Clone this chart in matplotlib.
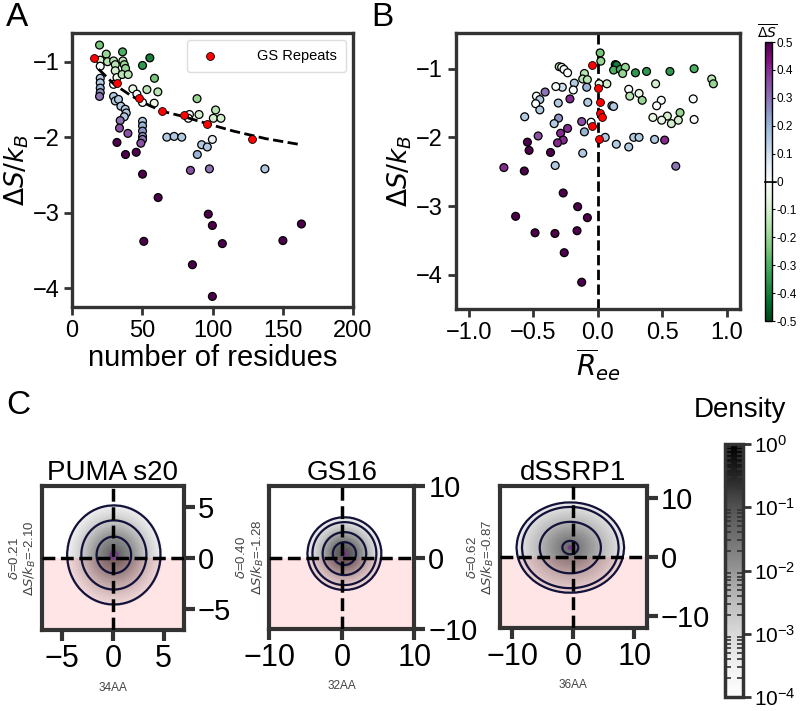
import numpy as np
import matplotlib
matplotlib.use("Agg")
import matplotlib.pyplot as plt
from matplotlib.colors import ListedColormap, Normalize, LogNorm
from matplotlib.cm import ScalarMappable

plt.rcParams['font.family'] = ['Liberation Sans', 'DejaVu Sans']

# ---------------- data: panel A ----------------
A_n = [19.6, 20.1, 24.4, 20.1, 25.3, 29.6, 30.8, 36.0, 36.2, 37.2, 38.1, 30.8, 32.0, 29.6,
       35.7, 40.0, 50.2, 55.4, 58.7, 53.3, 61.1, 43.3, 46.2, 50.2, 58.5, 20.1, 20.1, 20.1,
       20.1, 19.6, 29.6, 30.8, 33.1, 34.8, 37.9, 38.6, 37.2, 34.3, 33.8, 39.8, 32.0, 38.1,
       45.7, 50.2, 50.2, 50.2, 50.2, 50.2, 49.0, 50.2, 51.1, 61.3, 67.5, 72.7, 78.1, 84.3,
       89.2, 92.3, 96.3, 97.8, 99.9, 89.0, 90.4, 102.2, 100.6, 106.0, 83.6, 82.8, 97.0,
       99.9, 107.0, 85.7, 99.9, 150.1, 163.3, 137.3]
A_ds = [-0.78, -0.98, -0.90, -1.06, -1.00, -0.99, -1.04, -0.87, -0.99, -1.04, -1.09, -1.12,
        -1.21, -1.30, -1.17, -1.17, -1.05, -0.95, -1.22, -1.37, -1.40, -1.36, -1.43, -1.54,
        -1.55, -1.22, -1.28, -1.35, -1.41, -1.46, -1.46, -1.52, -1.50, -1.59, -1.63, -1.68,
        -1.73, -1.78, -1.88, -1.95, -2.07, -2.23, -2.20, -1.79, -1.85, -1.92, -1.99, -2.03,
        -2.08, -2.49, -3.38, -2.80, -2.00, -1.99, -2.00, -2.44, -2.23, -2.10, -2.13, -2.42,
        -2.03, -1.49, -1.70, -1.64, -1.75, -1.75, -1.70, -1.75, -3.02, -3.17, -3.41, -3.69,
        -4.11, -3.37, -3.15, -2.42]
A_c = [-0.25, -0.10, -0.20, 0.00, -0.15, -0.15, -0.15, -0.30, -0.15, -0.20, -0.20, -0.10,
       -0.05, 0.00, -0.15, -0.15, -0.35, -0.40, -0.25, -0.15, -0.15, -0.05, 0.00, 0.00,
       -0.05, 0.15, 0.15, 0.20, 0.25, 0.30, 0.15, 0.15, 0.15, 0.15, 0.15, 0.15, 0.15, 0.30,
       0.35, 0.35, 0.50, 0.50, 0.50, 0.15, 0.20, 0.25, 0.25, 0.30, 0.35, 0.50, 0.50, 0.50,
       0.15, 0.15, 0.15, 0.35, 0.20, 0.15, 0.15, 0.30, 0.05, -0.20, -0.10, -0.15, -0.10,
       -0.10, 0.00, 0.00, 0.50, 0.50, 0.50, 0.50, 0.50, 0.50, 0.50, 0.15]

GS_n = [16, 32, 48, 64, 80, 96, 128]
GS_ds = [-0.95, -1.28, -1.48, -1.65, -1.71, -1.83, -2.03]
GS_ree = [-0.047, 0.005, 0.018, 0.018, 0.031, -0.047, 0.010]

fit_n = [19, 30, 42, 55, 65, 80, 96, 115, 138, 163]
fit_ds = [-1.10, -1.30, -1.45, -1.58, -1.66, -1.73, -1.82, -1.92, -2.02, -2.10]

# ---------------- data: panel B ----------------
B_ree = [0.018, 0.023, 0.135, 0.145, 0.122, 0.174, 0.213, 0.192, 0.291, 0.377, 0.558, 0.745,
         0.881, 0.894, 0.447, 0.239, 0.247, 0.319, 0.343, 0.491, 0.455, 0.738, 0.636, 0.538,
         0.426, 0.494, 0.569, 0.623, 0.745, 0.070, 0.010, 0.109, 0.122, 0.057, 0.143, 0.239,
         0.278, 0.319, 0.439, 0.517, 0.603, -0.299, -0.280, -0.262, -0.234, -0.104, -0.117,
         -0.081, -0.086, -0.182, -0.275, -0.325, -0.190, -0.475, -0.449, -0.481, -0.449,
         -0.408, -0.566, -0.306, -0.216, -0.078, -0.304, -0.338, -0.125, -0.052, -0.104,
         -0.234, -0.288, -0.268, -0.312, -0.462, -0.545, -0.532, -0.366, -0.117, -0.330,
         -0.569, -0.727, -0.268, -0.156, -0.081, -0.636, -0.486, -0.332, -0.161, -0.260, -0.125]
B_ds = [-0.77, -0.89, -0.94, -0.95, -1.02, -1.01, -0.98, -1.07, -1.06, -1.04, -1.04, -1.00,
        -1.15, -1.22, -1.22, -1.30, -1.40, -1.36, -1.46, -1.46, -1.54, -1.44, -1.64, -1.69,
        -1.71, -1.75, -1.80, -1.75, -1.74, -1.22, -1.22, -1.54, -1.55, -2.00, -2.10, -2.14,
        -2.00, -2.00, -2.03, -2.04, -2.42, -0.97, -0.98, -1.01, -1.06, -1.07, -1.15, -1.16,
        -1.27, -1.21, -1.27, -1.26, -1.31, -1.40, -1.45, -1.51, -1.60, -1.34, -1.70, -1.50,
        -1.44, -1.49, -1.72, -1.80, -1.77, -1.78, -1.92, -1.87, -1.94, -2.04, -2.08, -1.98,
        -2.07, -2.19, -2.22, -2.23, -2.41, -2.49, -2.44, -2.81, -3.01, -3.17, -3.15, -3.39,
        -3.40, -3.36, -3.68, -4.11]
B_c = [-0.25, -0.20, -0.45, -0.40, -0.30, -0.30, -0.20, -0.20, -0.35, -0.35, -0.35, -0.30,
       -0.15, -0.20, -0.10, 0.00, -0.15, -0.05, -0.20, 0.00, 0.00, 0.00, -0.20, -0.10,
       -0.05, -0.05, -0.10, -0.10, 0.00, -0.10, -0.05, 0.15, 0.15, 0.15, 0.15, 0.15, 0.15,
       0.15, 0.15, 0.40, 0.30, -0.15, 0.00, 0.00, 0.00, -0.15, -0.15, -0.15, 0.20, 0.15,
       0.10, 0.00, 0.00, 0.00, 0.15, 0.00, 0.15, 0.30, 0.15, 0.15, 0.40, 0.15, 0.25, 0.15,
       0.35, 0.00, 0.20, 0.40, 0.40, 0.40, 0.40, 0.35, 0.50, 0.50, 0.50, 0.15, 0.15, 0.50,
       0.40, 0.50, 0.50, 0.50, 0.50, 0.50, 0.50, 0.50, 0.50, 0.50]

cb_ticks = [-0.5, -0.4, -0.3, -0.2, -0.1, 0.0, 0.1, 0.2, 0.3, 0.4, 0.5]
cb_labels = ['-0.5', '-0.4', '-0.3', '-0.2', '-0.1', '0', '0.1', '0.2', '0.3', '0.4', '0.5']

C_names = ['PUMA s20', 'GS16', 'dSSRP1']
C_delta = ['0.21', '0.40', '0.62']
C_dS = ['-2.10', '-1.28', '-0.87']
C_len = ['34AA', '32AA', '36AA']
C_lim = [7, 10, 12]
C_ticks = [[-5, 0, 5], [-10, 0, 10], [-10, 0, 10]]
C_cx = [0.1, 0.35, -0.5]
C_cy = [0.3, 0.55, 1.6]
C_aspect = [1.05, 1.0, 0.87]
C_radii = [[0, 0.35, 1.7, 3.2, 4.6, 5.0],
           [0, 0.35, 1.6, 3.0, 4.4, 5.1, 5.5],
           [0, 0.25, 1.3, 5.0, 7.9, 8.8, 9.3]]
C_logd = [[-1.2, -1.3, -1.9, -2.7, -3.5, -4.5],
          [-0.9, -1.0, -1.5, -2.3, -3.1, -3.5, -4.5],
          [-1.3, -1.35, -1.6, -2.4, -3.1, -3.5, -4.5]]

# ---------------- style ----------------
SPINE = '#333333'
greens = plt.get_cmap('Greens_r')(np.linspace(0, 1, 128))
bupu = plt.get_cmap('BuPu')(np.linspace(0, 1, 128))
cmap = ListedColormap(np.vstack([greens, bupu]))


def style(ax, lw=2.4):
    for s in ax.spines.values():
        s.set_linewidth(lw)
        s.set_color(SPINE)


fig = plt.figure(figsize=(8, 7.11), dpi=100)

# ---------------- Panel A ----------------
axA = fig.add_axes([0.09, 0.5682, 0.35125, 0.3854])
sc = axA.scatter(A_n, A_ds, c=A_c, cmap=cmap, vmin=-0.5, vmax=0.5, s=32,
                 edgecolors='k', linewidths=0.9, zorder=3)
axA.plot(fit_n, fit_ds, color='k', ls='--', lw=2, zorder=3.5)
axA.scatter(GS_n, GS_ds, c='red', s=32, edgecolors='k', linewidths=0.6, zorder=4,
            label='GS Repeats')
axA.set_xlim(0, 200)
axA.set_ylim(-4.25, -0.62)
axA.set_xticks([0, 50, 100, 150, 200])
axA.set_yticks([-4, -3, -2, -1])
axA.set_xlabel('number of residues', fontsize=21, labelpad=2)
axA.set_ylabel(r'$\Delta S/k_B$', fontsize=19, labelpad=1)
axA.tick_params(labelsize=17, length=6, width=2, color=SPINE, pad=3)
style(axA)
leg = axA.legend(loc='upper right', fontsize=10.5, handletextpad=2.2, borderpad=0.6,
                 framealpha=1, edgecolor='#dddddd', borderaxespad=0.5)

# ---------------- Panel B ----------------
axB = fig.add_axes([0.5696, 0.5654, 0.3554, 0.3882])
axB.axvline(0, color='k', ls='--', lw=2, zorder=2)
axB.scatter(B_ree, B_ds, c=B_c, cmap=cmap, vmin=-0.5, vmax=0.5, s=32,
            edgecolors='k', linewidths=0.9, zorder=3)
axB.scatter(GS_ree, GS_ds, c='red', s=32, edgecolors='k', linewidths=0.6, zorder=4)
axB.set_xlim(-1.1, 1.1)
axB.set_ylim(-4.5, -0.48)
axB.set_xticks([-1.0, -0.5, 0.0, 0.5, 1.0])
axB.set_xticklabels(['−1.0', '−0.5', '0.0', '0.5', '1.0'])
axB.set_yticks([-4, -3, -2, -1])
axB.set_xlabel(r'$\overline{R}_{ee}$', fontsize=20, labelpad=2)
axB.set_ylabel(r'$\Delta S/k_B$', fontsize=19, labelpad=2)
axB.tick_params(labelsize=17, length=6, width=2, color=SPINE, pad=3)
style(axB)

# colorbar for delta S
cax1 = fig.add_axes([0.9563, 0.5485, 0.00875, 0.3924])
cb1 = fig.colorbar(ScalarMappable(norm=Normalize(-0.5, 0.5), cmap=cmap), cax=cax1,
                   ticks=cb_ticks)
cb1.set_ticklabels(cb_labels)
cax1.tick_params(labelsize=8.5, length=2.5, width=0.8, pad=1)
cb1.outline.set_linewidth(1)
cax1.axhline(0, color='k', lw=1.2, xmin=0, xmax=1.6, clip_on=False)
fig.text(0.959, 0.955, r'$\overline{\Delta S}$', ha='center', va='center', fontsize=10)

# ---------------- Panel C ----------------
C_pos = [[0.0521, 0.1139, 0.1779, 0.2025],
         [0.3366, 0.1153, 0.1815, 0.2011],
         [0.625, 0.1167, 0.1834, 0.1997]]
dnorm = LogNorm(1e-4, 1)
for i in range(3):
    ax = fig.add_axes(C_pos[i])
    lim = C_lim[i]
    g = np.linspace(-lim, lim, 241)
    X, Y = np.meshgrid(g, g)
    R = np.sqrt(((X - C_cx[i])) ** 2 + ((Y - C_cy[i]) / C_aspect[i]) ** 2)
    Z = 10 ** np.interp(R, C_radii[i], C_logd[i], right=-6)
    ax.imshow(np.clip(Z, 1e-4, 1), extent=[-lim, lim, -lim, lim], origin='lower',
              cmap='Greys', norm=dnorm, interpolation='nearest', zorder=1, aspect='auto')
    ax.axhspan(-lim, 0, color='red', alpha=0.1, lw=0, zorder=2)
    levels = sorted(10 ** np.array(C_logd[i][1:-1]))
    cols = ['#12123a'] * (len(levels) - 1) + ['#7a3a8a']
    ax.contour(X, Y, Z, levels=levels, colors=cols, linewidths=1.6, zorder=3)
    ax.axhline(0, color='k', lw=2.5, ls='--', zorder=5)
    ax.axvline(0, color='k', lw=2.5, ls='--', zorder=5)
    ax.set_xlim(-lim, lim)
    ax.set_ylim(-lim, lim)
    ax.set_xticks(C_ticks[i])
    ax.set_yticks(C_ticks[i])
    ax.yaxis.tick_right()
    ax.tick_params(axis='y', labelsize=21, length=8, width=3, color=SPINE, pad=2)
    ax.tick_params(axis='x', labelsize=22, length=8, width=3, color=SPINE, pad=2)
    style(ax, 3)
    ax.set_title(C_names[i], fontsize=20, pad=3)
    ax.text(-0.13, 0.5, r'$\delta$=' + C_delta[i] + '\n' + r'$\Delta S/k_B$=' + C_dS[i],
            rotation=90, transform=ax.transAxes, ha='center', va='center',
            fontsize=9.5, color='#444444', linespacing=1.1)
    ax.text(0.5, -0.40, C_len[i], transform=ax.transAxes, ha='center', va='center',
            fontsize=8.5, color='#444444')

# density colorbar
cax2 = fig.add_axes([0.9063, 0.0197, 0.0229, 0.3558])
cb2 = fig.colorbar(ScalarMappable(norm=dnorm, cmap='Greys'), cax=cax2)
cb2.outline.set_linewidth(2.5)
cb2.outline.set_edgecolor(SPINE)
cax2.tick_params(which='major', labelsize=15, length=6, width=2, color=SPINE,
                 direction='out', pad=2)
cax2.tick_params(which='minor', left=True, right=True, direction='in', length=4,
                 width=1.2, color=SPINE)
fig.text(0.925, 0.4135, 'Density', ha='center', va='baseline', fontsize=20)

# panel letters
fig.text(0.008, 0.997, 'A', fontsize=24, va='top', ha='left')
fig.text(0.464, 0.997, 'B', fontsize=24, va='top', ha='left')
fig.text(0.008, 0.452, 'C', fontsize=24, va='top', ha='left')

fig.savefig('out.png', dpi=100)
